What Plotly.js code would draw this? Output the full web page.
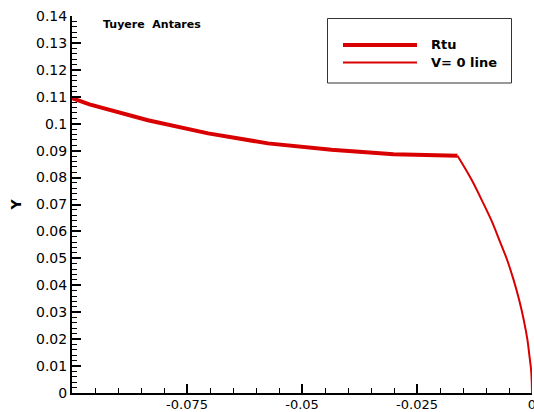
<!DOCTYPE html>
<html>
<head>
<meta charset="utf-8">
<script src="https://cdn.plot.ly/plotly-3.0.1.min.js"></script>
<style>
  html, body { margin: 0; padding: 0; background: #ffffff; }
  #chart { width: 534px; height: 412px; }
</style>
</head>
<body>
<div id="chart"></div>
<script>
// Nozzle wall contour (Rtu)
const rtuX = [-0.1, -0.0962, -0.0835, -0.0704, -0.0574, -0.0436, -0.0301, -0.0162];
const rtuY = [0.1095, 0.1072, 0.1013, 0.0964, 0.0927, 0.0903, 0.0887, 0.0881];

// Sonic line (V = 0) from the wall down to the axis
const sonicX = [-0.0162, -0.0131, -0.0106, -0.0088, -0.0071, -0.0054, -0.0040, -0.0028, -0.0018, -0.0010, -0.0005, -0.0002, -0.00005, 0];
const sonicY = [0.0881, 0.0791, 0.0705, 0.0640, 0.0568, 0.0494, 0.0420, 0.0346, 0.0272, 0.0198, 0.0130, 0.0087, 0.0040, 0];

// Axis ticks
const xTickVals = [-0.075, -0.05, -0.025, 0];
const xTickText = ['-0.075', '-0.05', '-0.025', '0'];
const yTickVals = [0, 0.01, 0.02, 0.03, 0.04, 0.05, 0.06, 0.07, 0.08, 0.09, 0.1, 0.11, 0.12, 0.13, 0.14];
const yTickText = ['0', '0.01', '0.02', '0.03', '0.04', '0.05', '0.06', '0.07', '0.08', '0.09', '0.1', '0.11', '0.12', '0.13', '0.14'];

const RED = '#d80000';
const M = { l: 72, r: 2, t: 16, b: 19 };
const W = 534, H = 412;
const PW = W - M.l - M.r, PH = H - M.t - M.b;
// pixel position -> paper fraction
const px = v => (v - M.l) / PW;
const py = v => (H - M.b - v) / PH;

const traces = [
  { x: rtuX, y: rtuY, name: 'Rtu', mode: 'lines', line: { color: RED, width: 4 } },
  { x: sonicX, y: sonicY, name: 'V= 0 line', mode: 'lines', line: { color: RED, width: 2, shape: 'spline', smoothing: 1 } }
];

// Framed key drawn in the upper right of the plot
const shapes = [{
  type: 'rect', xref: 'paper', yref: 'paper',
  x0: px(327.5), x1: px(511.5), y0: py(83), y1: py(18.5),
  line: { color: '#333333', width: 1 }, fillcolor: '#ffffff'
}];
const annotations = [{
  text: '<b>Tuyere  Antares</b>', xref: 'paper', yref: 'paper',
  x: px(101), y: py(24.5), xanchor: 'left', yanchor: 'middle', showarrow: false,
  font: { family: 'DejaVu Sans', size: 11, color: '#000000' }
}];
const keyRows = [45, 62.5];
traces.forEach((t, i) => {
  shapes.push({
    type: 'line', xref: 'paper', yref: 'paper',
    x0: px(343), x1: px(417), y0: py(keyRows[i]), y1: py(keyRows[i]),
    line: { color: t.line.color, width: t.line.width }
  });
  annotations.push({
    text: '<b>' + t.name + '</b>', xref: 'paper', yref: 'paper',
    x: px(429), y: py(keyRows[i]), xanchor: 'left', yanchor: 'middle', showarrow: false,
    font: { family: 'DejaVu Sans', size: 13, color: '#000000' }
  });
});

const axisCommon = {
  showgrid: false, zeroline: false, showline: true, linecolor: '#000000', linewidth: 2,
  ticks: 'inside', ticklen: 9, tickwidth: 2, tickcolor: '#000000',
  tickfont: { family: 'DejaVu Sans', size: 14, color: '#000000' },
  ticklabeloverflow: 'allow',
  mirror: false, fixedrange: true
};

const layout = {
  width: W, height: H, margin: M,
  paper_bgcolor: '#ffffff', plot_bgcolor: '#ffffff',
  showlegend: false,
  xaxis: Object.assign({}, axisCommon, {
    range: [-0.1, 0], tickmode: 'array', tickvals: xTickVals, ticktext: xTickText,
    tickfont: { family: 'DejaVu Sans', size: 13, color: '#000000' },
    ticklabelstandoff: -2,
    minor: { tickmode: 'linear', tick0: 0, dtick: 0.005, ticks: 'inside', ticklen: 5, tickwidth: 1, tickcolor: '#000000', showgrid: false }
  }),
  yaxis: Object.assign({}, axisCommon, {
    range: [0, 0.14], tickmode: 'array', tickvals: yTickVals, ticktext: yTickText,
    minor: { tickmode: 'linear', tick0: 0, dtick: 0.002, ticks: 'inside', ticklen: 5, tickwidth: 1, tickcolor: '#000000', showgrid: false },
    title: { text: '<b>Y</b>', font: { family: 'DejaVu Sans', size: 14, color: '#000000' }, standoff: 11 }
  }),
  shapes: shapes,
  annotations: annotations
};

Plotly.newPlot('chart', traces, layout, { displayModeBar: false, staticPlot: true });
</script>
</body>
</html>
